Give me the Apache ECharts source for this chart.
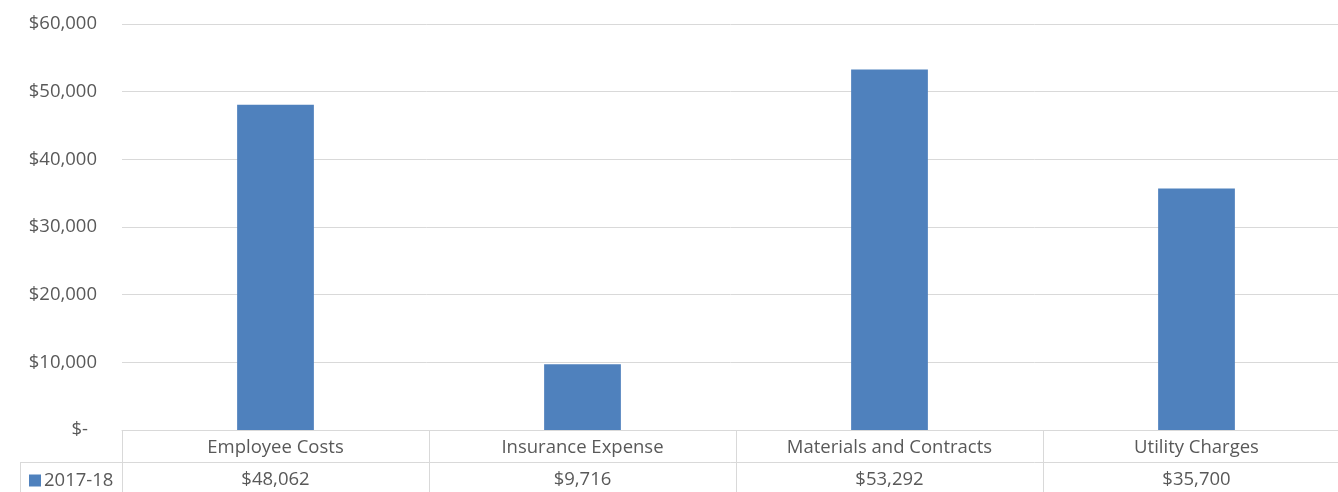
<!DOCTYPE html>
<html>
<head>
<meta charset="utf-8">
<script src="https://cdn.jsdelivr.net/npm/echarts@6/dist/echarts.min.js"></script>
<style>
  html, body { margin: 0; padding: 0; background: #ffffff; }
  #chart { width: 1338px; height: 492px; }
</style>
</head>
<body>
<div id="chart"></div>
<script>
// Expense categories and their 2017-18 amounts
const categories = ['Employee Costs', 'Insurance Expense', 'Materials and Contracts', 'Utility Charges'];
const seriesName = '2017-18';
const values2017_18 = [48062, 9716, 53292, 35700];
const yTicks = [0, 10000, 20000, 30000, 40000, 50000, 60000];

const TEXT = '#595959';
const LINE = '#d9d9d9';
const FONT = 'Open Sans';
const FS = 18.5;

const money = v => '$' + Number(v).toLocaleString('en-US');

const chart = echarts.init(document.getElementById('chart'), null, { renderer: 'canvas' });

chart.setOption({
  animation: false,
  textStyle: { fontFamily: FONT, color: TEXT },
  // plot area runs a little past the right edge of the canvas
  grid: { left: 122, width: 1228, top: 24, bottom: 62, containLabel: false, outerBoundsMode: 'none' },
  legend: {
    data: [seriesName],
    left: 24,
    top: 466,
    icon: 'rect',
    itemWidth: 12,
    itemHeight: 12,
    itemGap: 4,
    textStyle: { color: TEXT, fontSize: FS, fontFamily: FONT, padding: [0, 0, 0, -2] }
  },
  xAxis: [
    {
      // header row of the data table: category names
      type: 'category',
      data: categories,
      position: 'bottom',
      axisLine: { show: true, lineStyle: { color: LINE, width: 1 } },
      axisTick: { show: true, length: 62, lineStyle: { color: LINE, width: 1 } },
      axisLabel: { color: TEXT, fontSize: FS, fontFamily: FONT, margin: 8, interval: 0 },
      splitLine: { show: false }
    },
    {
      // value row of the data table
      type: 'category',
      data: categories,
      position: 'bottom',
      offset: 32,
      axisLine: { show: true, lineStyle: { color: LINE, width: 1 } },
      axisTick: { show: false },
      axisLabel: {
        color: TEXT, fontSize: FS, fontFamily: FONT, margin: 8, interval: 0,
        formatter: (name, idx) => money(values2017_18[idx])
      },
      splitLine: { show: false }
    }
  ],
  yAxis: {
    type: 'value',
    min: yTicks[0],
    max: yTicks[yTicks.length - 1],
    interval: yTicks[1] - yTicks[0],
    axisLine: { show: false },
    axisTick: { show: false },
    splitLine: { show: true, lineStyle: { color: LINE, width: 1 } },
    axisLabel: {
      color: TEXT, fontSize: FS, fontFamily: FONT, margin: 25,
      formatter: v => v === 0 ? '{z|$-}' : money(v),
      rich: { z: { color: TEXT, fontSize: FS, fontFamily: FONT, padding: [0, 9, 0, 0] } }
    }
  },
  series: [
    {
      name: seriesName,
      type: 'bar',
      xAxisIndex: 0,
      data: values2017_18,
      barWidth: '25%',
      itemStyle: { color: '#4f81bd' }
    }
  ],
  graphic: [
    // legend cell borders to the left of the table
    { type: 'line', shape: { x1: 20, y1: 462.5, x2: 122, y2: 462.5 }, style: { stroke: LINE, lineWidth: 1 }, silent: true },
    { type: 'line', shape: { x1: 20.5, y1: 462, x2: 20.5, y2: 492 }, style: { stroke: LINE, lineWidth: 1 }, silent: true }
  ]
});
</script>
</body>
</html>
